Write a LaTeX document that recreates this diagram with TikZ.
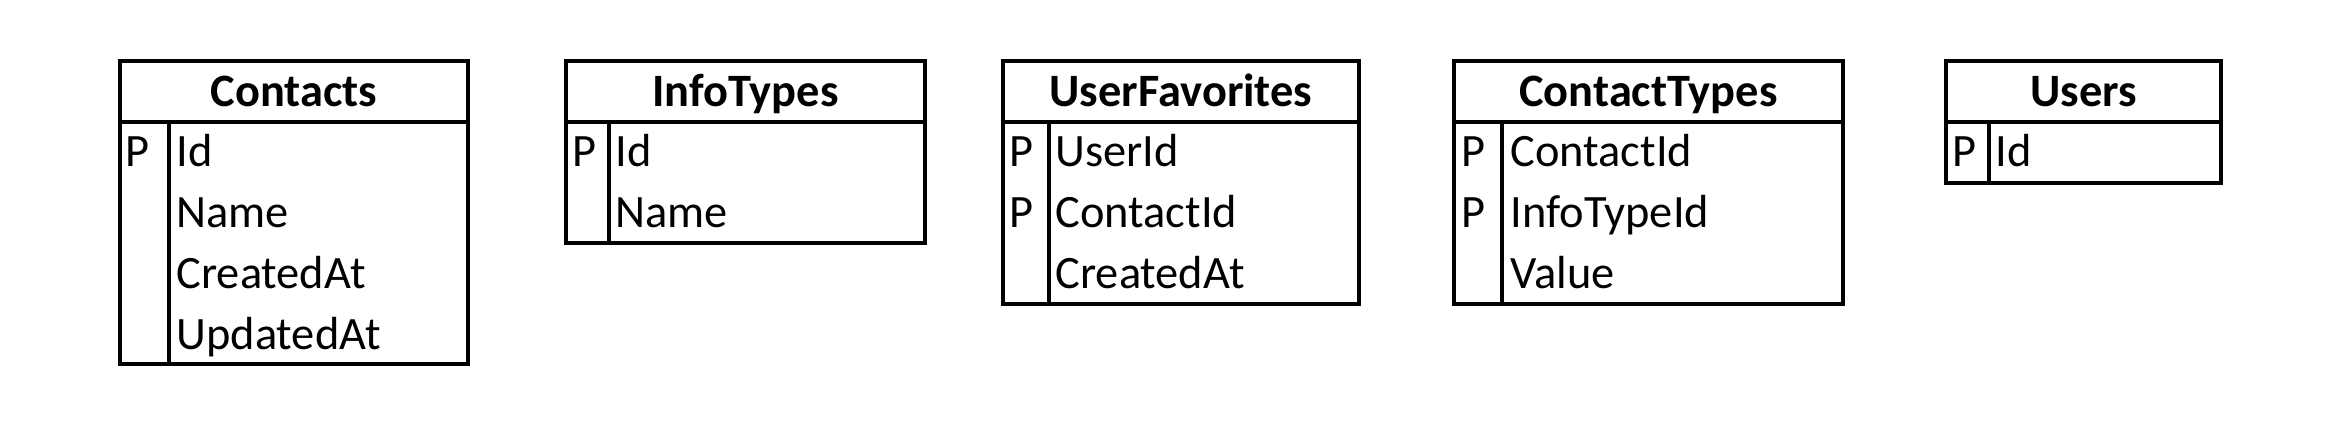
\documentclass[tikz,border=0pt]{standalone}
\usepackage{fontspec}
\setmainfont{Carlito}
\begin{document}
\begin{tikzpicture}[x=0.5pt, y=-0.5pt, line width=1.6pt]
\useasboundingbox (0,0) rectangle (2334,426);

\tikzstyle{every node}=[inner sep=0pt, anchor=base west, font=\fontsize{23.2pt}{27pt}\selectfont]
\tikzstyle{tablename}=[anchor=base, font=\fontsize{23.2pt}{27pt}\selectfont\bfseries]

% Contacts
\draw (120,61) rectangle (468,364) (120,122) -- (468,122) (169,122) -- (169,364);
\draw (294,107)  node[tablename] (contacts) {Contacts}
      (124,167)  node (contacts-pk) {P}
      (175,167)  node (contacts-id) {Id}
      (175,228)  node (contacts-name) {Name}
      (175,289)  node (contacts-created) {CreatedAt}
      (175,350)  node (contacts-updated) {UpdatedAt};

% InfoTypes
\draw (566,61) rectangle (925,243) (566,122) -- (925,122) (609,122) -- (609,243);
\draw (745.5,107) node[tablename] (infotypes) {InfoTypes}
      (571,167)  node (infotypes-pk) {P}
      (614,167)  node (infotypes-id) {Id}
      (614,228)  node (infotypes-name) {Name};

% UserFavorites
\draw (1003,61) rectangle (1359,304) (1003,122) -- (1359,122) (1049,122) -- (1049,304);
\draw (1181,107) node[tablename] (userfav) {UserFavorites}
      (1008,167) node (userfav-pk1) {P}
      (1008,228) node (userfav-pk2) {P}
      (1054,167) node (userfav-user) {UserId}
      (1054,228) node (userfav-contact) {ContactId}
      (1054,289) node (userfav-created) {CreatedAt};

% ContactTypes
\draw (1454,61) rectangle (1843,304) (1454,122) -- (1843,122) (1502,122) -- (1502,304);
\draw (1648.5,107) node[tablename] (contacttypes) {ContactTypes}
      (1460,167) node (contacttypes-pk1) {P}
      (1460,228) node (contacttypes-pk2) {P}
      (1509,167) node (contacttypes-contact) {ContactId}
      (1509,228) node (contacttypes-infotype) {InfoTypeId}
      (1509,289) node (contacttypes-value) {Value};

% Users
\draw (1946,61) rectangle (2221,183) (1946,122) -- (2221,122) (1989,122) -- (1989,183);
\draw (2083.5,107) node[tablename] (users) {Users}
      (1951,167) node (users-pk) {P}
      (1994,167) node (users-id) {Id};

\end{tikzpicture}
\end{document}
